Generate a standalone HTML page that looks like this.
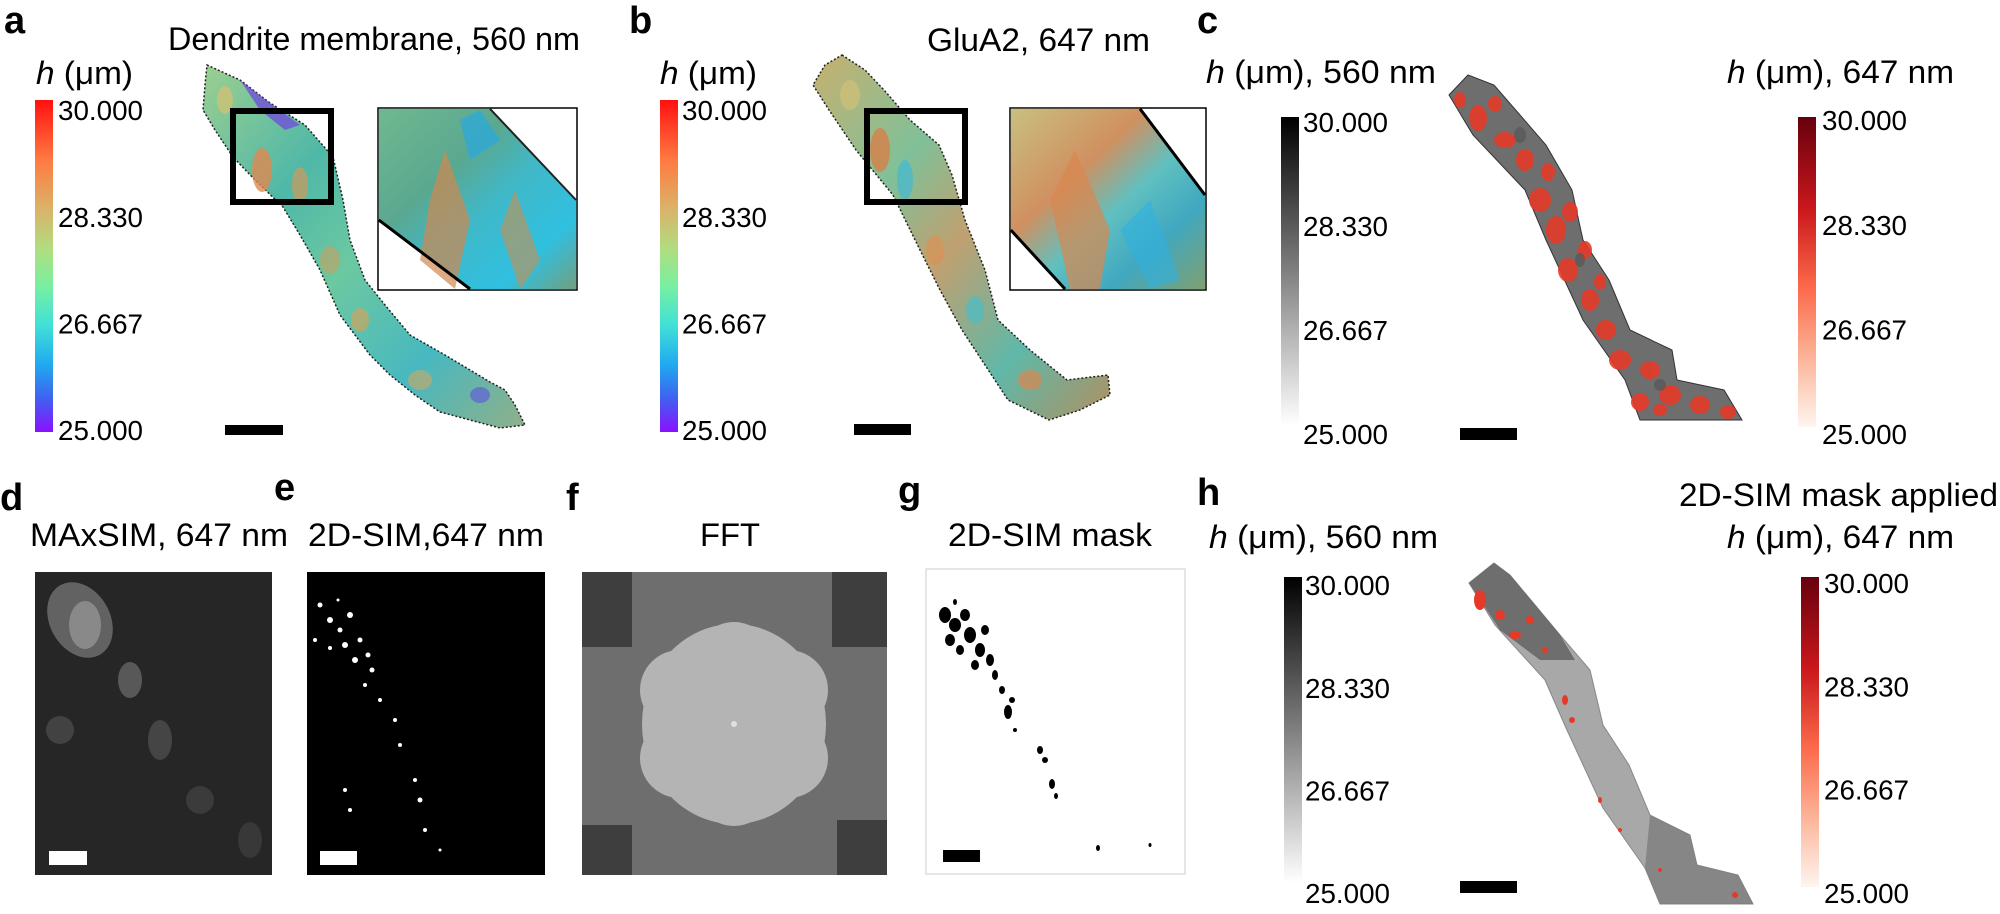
<!DOCTYPE html>
<html><head><meta charset="utf-8"><style>
html,body{margin:0;padding:0;background:#fff;}
svg{display:block;font-family:"Liberation Sans",Arial,sans-serif;}
</style></head><body>
<svg id="fig" width="2000" height="914" viewBox="0 0 2000 914" xmlns="http://www.w3.org/2000/svg">
<defs>
<linearGradient id="jet" x1="0" y1="0" x2="0" y2="1">
<stop offset="0" stop-color="#ff1010"/><stop offset="0.18" stop-color="#ff7a40"/><stop offset="0.33" stop-color="#d9b46a"/><stop offset="0.45" stop-color="#b0dd80"/><stop offset="0.56" stop-color="#78f0a0"/><stop offset="0.68" stop-color="#40e0d8"/><stop offset="0.8" stop-color="#20a8f0"/><stop offset="0.9" stop-color="#4060f0"/><stop offset="1" stop-color="#8a10ff"/>
</linearGradient>
<linearGradient id="grayc" x1="0" y1="0" x2="0" y2="1"><stop offset="0" stop-color="#000"/><stop offset="1" stop-color="#fff"/></linearGradient>
<linearGradient id="redc" x1="0" y1="0" x2="0" y2="1"><stop offset="0" stop-color="#67000d"/><stop offset="0.3" stop-color="#cb181d"/><stop offset="0.55" stop-color="#fb6a4a"/><stop offset="0.8" stop-color="#fcbba1"/><stop offset="1" stop-color="#fff5f0"/></linearGradient>
<linearGradient id="dendA" x1="0" y1="0" x2="1" y2="1">
<stop offset="0" stop-color="#9ccf90"/><stop offset="0.3" stop-color="#4fb8a8"/><stop offset="0.5" stop-color="#6cc8a0"/><stop offset="0.75" stop-color="#48b8c0"/><stop offset="1" stop-color="#90b088"/></linearGradient>
<linearGradient id="dendB" x1="0" y1="0" x2="1" y2="1">
<stop offset="0" stop-color="#c8b070"/><stop offset="0.3" stop-color="#80c098"/><stop offset="0.5" stop-color="#c0a070"/><stop offset="0.75" stop-color="#60b8a8"/><stop offset="1" stop-color="#b09060"/></linearGradient>
<linearGradient id="insA" x1="0" y1="0" x2="1" y2="1">
<stop offset="0" stop-color="#70b890"/><stop offset="0.35" stop-color="#5aa890"/><stop offset="0.55" stop-color="#40b8c8"/><stop offset="0.8" stop-color="#30c0e0"/><stop offset="1" stop-color="#70a080"/></linearGradient>
<linearGradient id="insB" x1="0" y1="0" x2="1" y2="1">
<stop offset="0" stop-color="#c8c080"/><stop offset="0.35" stop-color="#d09060"/><stop offset="0.55" stop-color="#60c0c0"/><stop offset="0.75" stop-color="#40a8c0"/><stop offset="1" stop-color="#80a070"/></linearGradient>
</defs>

<g font-weight="bold" font-size="38" fill="#000">
<text x="4" y="33">a</text>
<text x="629" y="33">b</text>
<text x="1197" y="33">c</text>
<text x="0" y="510">d</text>
<text x="274" y="500">e</text>
<text x="566" y="510">f</text>
<text x="898" y="503">g</text>
<text x="1197" y="505">h</text>
</g>

<g font-size="32" fill="#000">
<text x="168" y="50" textLength="412" lengthAdjust="spacingAndGlyphs">Dendrite membrane, 560 nm</text>
<text x="36" y="84" textLength="97" lengthAdjust="spacingAndGlyphs"><tspan font-style="italic">h</tspan> (μm)</text>
<text x="927" y="51" textLength="223" lengthAdjust="spacingAndGlyphs">GluA2, 647 nm</text>
<text x="660" y="84" textLength="97" lengthAdjust="spacingAndGlyphs"><tspan font-style="italic">h</tspan> (μm)</text>
<text x="1206" y="83" textLength="230" lengthAdjust="spacingAndGlyphs"><tspan font-style="italic">h</tspan> (μm), 560 nm</text>
<text x="1727" y="83" textLength="227" lengthAdjust="spacingAndGlyphs"><tspan font-style="italic">h</tspan> (μm), 647 nm</text>
<text x="30" y="546" textLength="258" lengthAdjust="spacingAndGlyphs">MAxSIM, 647 nm</text>
<text x="308" y="546" textLength="236" lengthAdjust="spacingAndGlyphs">2D-SIM,647 nm</text>
<text x="700" y="546" textLength="60" lengthAdjust="spacingAndGlyphs">FFT</text>
<text x="948" y="546" textLength="204" lengthAdjust="spacingAndGlyphs">2D-SIM mask</text>
<text x="1679" y="506" textLength="319" lengthAdjust="spacingAndGlyphs">2D-SIM mask applied</text>
<text x="1209" y="548" textLength="229" lengthAdjust="spacingAndGlyphs"><tspan font-style="italic">h</tspan> (μm), 560 nm</text>
<text x="1727" y="548" textLength="227" lengthAdjust="spacingAndGlyphs"><tspan font-style="italic">h</tspan> (μm), 647 nm</text>
</g>

<g>
<polygon points="207,65 240,80 270,103 305,125 333,157 343,200 350,240 365,280 385,305 410,335 445,355 470,370 490,382 505,390 515,405 525,425 500,428 470,420 440,412 415,395 390,375 370,355 340,315 320,270 300,235 283,207 255,180 233,157 215,130 203,110 205,85" fill="url(#dendA)" stroke="#222" stroke-width="1.5" stroke-dasharray="2 2"/>
<polygon points="240,80 270,103 300,125 285,130 260,110" fill="#7040e0" opacity="0.7"/>
<ellipse cx="262" cy="170" rx="10" ry="22" fill="#e08850" opacity="0.8"/>
<ellipse cx="300" cy="185" rx="8" ry="18" fill="#d09858" opacity="0.7"/>
<ellipse cx="330" cy="260" rx="10" ry="14" fill="#c8a060" opacity="0.6"/>
<ellipse cx="360" cy="320" rx="9" ry="12" fill="#e0a050" opacity="0.6"/>
<ellipse cx="420" cy="380" rx="12" ry="10" fill="#d0a860" opacity="0.6"/>
<ellipse cx="480" cy="395" rx="10" ry="8" fill="#6050e0" opacity="0.6"/>
<ellipse cx="225" cy="100" rx="8" ry="14" fill="#d8c070" opacity="0.7"/>
</g>
<rect x="233" y="111" width="98" height="91" fill="none" stroke="#000" stroke-width="6"/>
<g>
<rect x="378" y="108" width="199" height="182" fill="#fff" stroke="#000" stroke-width="1.5"/>
<polygon points="378.8,108.8 490,108.8 576.2,200 576.2,289.2 470,289.2 378.8,220" fill="url(#insA)"/>
<polygon points="430,200 445,150 470,220 455,289 420,260" fill="#d08850" opacity="0.7"/>
<polygon points="500,230 515,190 540,260 520,289" fill="#c89050" opacity="0.6"/>
<polygon points="460,120 480,110 500,140 470,160" fill="#2aa8e0" opacity="0.7"/>
<polyline points="378.8,220 470,289" stroke="#000" stroke-width="3" fill="none"/>
<polyline points="490,108.8 576,200" stroke="#222" stroke-width="2" fill="none"/>
</g>
<rect x="225" y="425" width="58" height="10" fill="#000"/>

<g>
<polygon points="842,55 865,70 884,90 910,120 939,145 952,175 965,220 985,270 998,320 1030,350 1067,380 1108,375 1110,395 1080,410 1049,420 1008,400 985,365 962,330 940,290 920,250 893,195 856,150 829,110 813,85 825,65" fill="url(#dendB)" stroke="#222" stroke-width="1.5" stroke-dasharray="2 2"/>
<ellipse cx="880" cy="150" rx="10" ry="22" fill="#d88048" opacity="0.8"/>
<ellipse cx="905" cy="180" rx="8" ry="20" fill="#38b8e0" opacity="0.6"/>
<ellipse cx="935" cy="250" rx="9" ry="15" fill="#e09050" opacity="0.6"/>
<ellipse cx="975" cy="310" rx="9" ry="14" fill="#40c0d0" opacity="0.6"/>
<ellipse cx="1030" cy="380" rx="12" ry="10" fill="#d88850" opacity="0.7"/>
<ellipse cx="850" cy="95" rx="10" ry="15" fill="#d0c078" opacity="0.7"/>
</g>
<rect x="867" y="111" width="98" height="91" fill="none" stroke="#000" stroke-width="6"/>
<g>
<rect x="1010" y="108" width="196" height="182" fill="#fff" stroke="#000" stroke-width="1.5"/>
<polygon points="1010.8,108.8 1140,108.8 1205.2,195 1205.2,289.2 1065,289.2 1010.8,230" fill="url(#insB)"/>
<polygon points="1050,200 1075,150 1110,230 1100,289 1070,289" fill="#d88850" opacity="0.7"/>
<polygon points="1120,230 1150,200 1180,280 1150,289" fill="#30b0e0" opacity="0.6"/>
<polyline points="1010.8,230 1065,289" stroke="#000" stroke-width="3" fill="none"/>
<polyline points="1140,108.8 1205,195" stroke="#000" stroke-width="3" fill="none"/>
</g>
<rect x="854" y="424" width="57" height="11" fill="#000"/>

<g>
<polygon points="1468,75 1494,85 1520,115 1546,145 1572,190 1583,240 1609,280 1630,330 1672,350 1677,380 1724,390 1742,420 1640,420 1625,380 1583,320 1546,240 1525,190 1473,135 1449,95" fill="#6e6e6e" stroke="#333" stroke-width="1"/>
<g fill="#e53a28" opacity="0.9">
<ellipse cx="1478" cy="118" rx="9" ry="13"/><ellipse cx="1505" cy="140" rx="11" ry="8"/><ellipse cx="1525" cy="160" rx="9" ry="11"/>
<ellipse cx="1540" cy="200" rx="11" ry="12"/><ellipse cx="1556" cy="230" rx="10" ry="14"/><ellipse cx="1570" cy="212" rx="8" ry="10"/>
<ellipse cx="1568" cy="270" rx="10" ry="12"/><ellipse cx="1590" cy="300" rx="9" ry="11"/><ellipse cx="1606" cy="330" rx="10" ry="10"/>
<ellipse cx="1620" cy="360" rx="11" ry="10"/><ellipse cx="1650" cy="370" rx="10" ry="9"/><ellipse cx="1670" cy="395" rx="11" ry="10"/>
<ellipse cx="1700" cy="405" rx="10" ry="9"/><ellipse cx="1728" cy="412" rx="8" ry="7"/><ellipse cx="1495" cy="104" rx="7" ry="8"/>
<ellipse cx="1548" cy="172" rx="7" ry="9"/><ellipse cx="1640" cy="402" rx="9" ry="9"/><ellipse cx="1585" cy="250" rx="7" ry="9"/>
<ellipse cx="1460" cy="100" rx="6" ry="8"/><ellipse cx="1600" cy="282" rx="6" ry="8"/><ellipse cx="1660" cy="410" rx="7" ry="6"/>
</g>
<g fill="#555" opacity="0.7"><ellipse cx="1520" cy="135" rx="6" ry="8"/><ellipse cx="1580" cy="260" rx="5" ry="7"/><ellipse cx="1660" cy="385" rx="6" ry="6"/></g>
</g>
<rect x="1460" y="428" width="57" height="12" fill="#000"/>

<g>
<rect x="35" y="572" width="237" height="303" fill="#262626"/>
<ellipse cx="80" cy="620" rx="30" ry="40" fill="#8a8a8a" opacity="0.6" transform="rotate(-30 80 620)"/>
<ellipse cx="85" cy="625" rx="16" ry="24" fill="#b0b0b0" opacity="0.5"/>
<ellipse cx="130" cy="680" rx="12" ry="18" fill="#7a7a7a" opacity="0.6"/>
<ellipse cx="60" cy="730" rx="14" ry="14" fill="#555" opacity="0.6"/>
<ellipse cx="160" cy="740" rx="12" ry="20" fill="#5a5a5a" opacity="0.6"/>
<ellipse cx="200" cy="800" rx="14" ry="14" fill="#4a4a4a" opacity="0.6"/>
<ellipse cx="250" cy="840" rx="12" ry="18" fill="#444" opacity="0.6"/>
<rect x="49" y="851" width="38" height="14" fill="#fff"/>
</g>

<g>
<rect x="307" y="572" width="238" height="303" fill="#000"/>
<g fill="#fff">
<circle cx="320" cy="605" r="2.5"/><circle cx="330" cy="620" r="3"/><circle cx="340" cy="630" r="2.5"/><circle cx="350" cy="615" r="3"/>
<circle cx="345" cy="645" r="3"/><circle cx="360" cy="640" r="2.5"/><circle cx="355" cy="660" r="3"/><circle cx="368" cy="655" r="2.5"/>
<circle cx="330" cy="648" r="2"/><circle cx="372" cy="670" r="2.5"/><circle cx="365" cy="685" r="2"/><circle cx="380" cy="700" r="2"/>
<circle cx="395" cy="720" r="2"/><circle cx="400" cy="745" r="2"/><circle cx="345" cy="790" r="2"/><circle cx="350" cy="810" r="2"/>
<circle cx="415" cy="780" r="2"/><circle cx="420" cy="800" r="2.5"/><circle cx="425" cy="830" r="2"/><circle cx="440" cy="850" r="1.5"/>
<circle cx="315" cy="640" r="2"/><circle cx="338" cy="600" r="1.5"/>
</g>
<rect x="320" y="851" width="37" height="14" fill="#fff"/>
</g>

<g>
<rect x="582" y="572" width="305" height="303" fill="#6e6e6e"/>
<rect x="582" y="572" width="50" height="75" fill="#3e3e3e"/>
<rect x="832" y="572" width="55" height="75" fill="#3e3e3e"/>
<rect x="582" y="825" width="50" height="50" fill="#3e3e3e"/>
<rect x="837" y="820" width="50" height="55" fill="#3e3e3e"/>
<g fill="#b4b4b4">
<ellipse cx="734" cy="724" rx="92" ry="100"/>
<circle cx="734" cy="660" r="38"/><circle cx="734" cy="788" r="38"/>
<circle cx="680" cy="690" r="40"/><circle cx="788" cy="690" r="40"/>
<circle cx="680" cy="758" r="40"/><circle cx="788" cy="758" r="40"/>
</g>
<circle cx="734" cy="724" r="3" fill="#e0e0e0"/>
</g>

<g>
<rect x="926" y="569" width="259" height="305" fill="#fff" stroke="#ddd" stroke-width="1.5"/>
<g fill="#000">
<ellipse cx="945" cy="615" rx="6" ry="8"/><ellipse cx="955" cy="625" rx="6" ry="7"/><ellipse cx="965" cy="615" rx="5" ry="6"/>
<ellipse cx="950" cy="640" rx="5" ry="6"/><ellipse cx="970" cy="635" rx="6" ry="8"/><ellipse cx="980" cy="650" rx="5" ry="7"/>
<ellipse cx="960" cy="650" rx="4" ry="5"/><ellipse cx="990" cy="660" rx="4" ry="6"/><ellipse cx="975" cy="665" rx="4" ry="5"/>
<ellipse cx="985" cy="630" rx="4" ry="5"/><ellipse cx="995" cy="675" rx="3" ry="5"/><ellipse cx="1002" cy="690" rx="3" ry="4"/>
<ellipse cx="1008" cy="712" rx="4" ry="7"/><ellipse cx="1012" cy="700" rx="3" ry="3"/><ellipse cx="1015" cy="730" rx="2" ry="2"/>
<ellipse cx="1040" cy="750" rx="3" ry="4"/><ellipse cx="1045" cy="760" rx="3" ry="3"/><ellipse cx="1052" cy="784" rx="3" ry="5"/>
<ellipse cx="1056" cy="796" rx="2" ry="3"/><ellipse cx="1098" cy="848" rx="2" ry="3"/><ellipse cx="1150" cy="845" rx="1.5" ry="2"/>
<ellipse cx="955" cy="602" rx="2" ry="3"/>
</g>
<rect x="943" y="850" width="37" height="12" fill="#000"/>
</g>

<g>
<polygon points="1494,563 1510,575 1535,605 1560,635 1590,670 1603,725 1629,765 1650,815 1690,835 1697,865 1738,875 1753,904 1660,904 1645,868 1603,808 1566,728 1545,680 1495,625 1469,583" fill="#a8a8a8" stroke="#888" stroke-width="1"/>
<polygon points="1494,563 1510,575 1535,605 1560,635 1575,660 1540,660 1500,630 1469,583" fill="#555" opacity="0.7"/>
<polygon points="1650,815 1690,835 1697,865 1738,875 1753,904 1660,904 1645,868" fill="#777" opacity="0.7"/>
<g fill="#e53a28">
<ellipse cx="1480" cy="600" rx="6" ry="10"/><ellipse cx="1500" cy="615" rx="5" ry="5"/><ellipse cx="1515" cy="635" rx="6" ry="4"/>
<ellipse cx="1530" cy="620" rx="4" ry="4"/><ellipse cx="1545" cy="650" rx="3" ry="3"/><ellipse cx="1565" cy="700" rx="3" ry="5"/>
<ellipse cx="1572" cy="720" rx="3" ry="3"/><ellipse cx="1600" cy="800" rx="2" ry="3"/><ellipse cx="1620" cy="830" rx="2" ry="2"/>
<ellipse cx="1660" cy="870" rx="2" ry="2"/><ellipse cx="1735" cy="895" rx="3" ry="3"/>
</g>
</g>
<rect x="1460" y="881" width="57" height="12" fill="#000"/>

<g id="colorbars"></g>
</svg>
<script>
const tickValues = [30.000, 28.330, 26.667, 25.000];
const tickLabels = ['30.000', '28.330', '26.667', '25.000'];
const vMin = 25.0;
const vMax = 30.0;
const NS = 'http://www.w3.org/2000/svg';
const host = document.getElementById('colorbars');
function makeBar(name, barX, barY0, barY1, fill, tickTop, tickBottom, labelX) {
  const g = document.createElementNS(NS, 'g');
  
  
  const r = document.createElementNS(NS, 'rect');
  r.setAttribute('x', barX); r.setAttribute('y', barY0);
  r.setAttribute('width', 18); r.setAttribute('height', barY1 - barY0);
  r.setAttribute('fill', fill);
  
  
  g.appendChild(r);
  const scale = v => tickTop + (vMax - v) / (vMax - vMin) * (tickBottom - tickTop);
  tickValues.forEach((v, i) => {
    const t = document.createElementNS(NS, 'text');
    t.setAttribute('x', labelX);
    t.setAttribute('y', scale(v) + 10);
    t.setAttribute('font-size', 28);
    t.setAttribute('textLength', 85);
    t.setAttribute('lengthAdjust', 'spacingAndGlyphs');
    t.textContent = tickLabels[i];
    
    
    g.appendChild(t);
  });
  host.appendChild(g);
}
makeBar('colorbar-a', 35, 100, 432, 'url(#jet)', 110, 430, 58);
makeBar('colorbar-b', 660, 100, 432, 'url(#jet)', 110, 430, 682);
makeBar('colorbar-c-gray', 1281, 117, 425, 'url(#grayc)', 122, 434, 1303);
makeBar('colorbar-c-red', 1798, 117, 427, 'url(#redc)', 120, 434, 1822);
makeBar('colorbar-h-gray', 1284, 577, 883, 'url(#grayc)', 585, 893, 1305);
makeBar('colorbar-h-red', 1801, 577, 887, 'url(#redc)', 583, 893, 1824);
</script>
</body></html>
